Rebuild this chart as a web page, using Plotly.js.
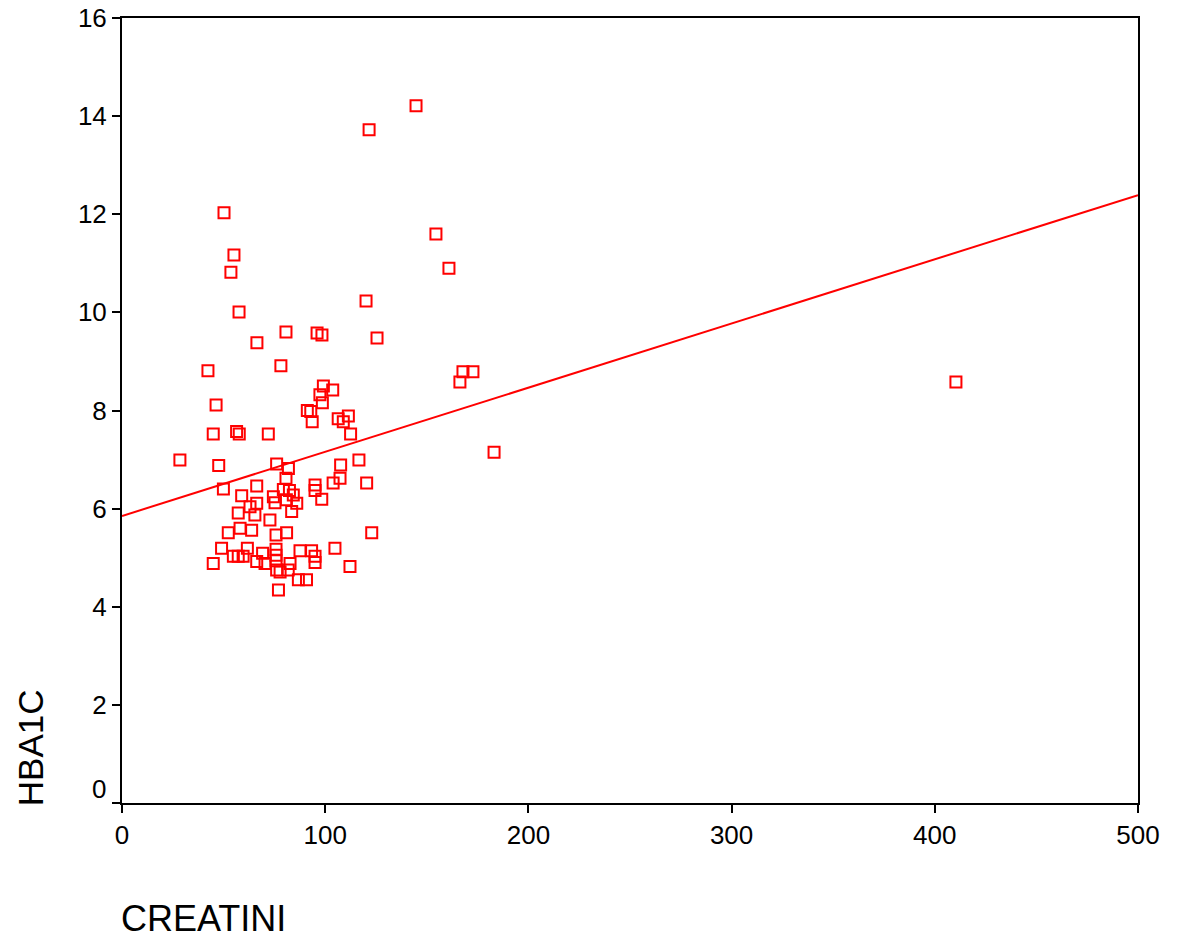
<!DOCTYPE html>
<html>
<head>
<meta charset="utf-8">
<script src="https://cdn.plot.ly/plotly-3.0.1.min.js"></script>
<style>html,body{margin:0;padding:0;background:#fff;}#chart{width:1179px;height:942px;}</style>
</head>
<body>
<div id="chart"></div>
<script>
const creatinine = [
  144.7,121.6,50.2,55.1,154.5,53.6,160.9,57.6,120.1,80.7,96.0,98.4,125.5,66.4,42.3,78.2,167.8,172.7,166.3,410.4,
  46.3,99.1,103.7,97.4,98.6,91.2,92.9,93.6,106.4,111.4,108.9,112.5,44.9,56.4,57.7,72.0,
  183.1,28.5,116.6,47.6,76.1,81.9,107.6,80.7,107.3,103.9,120.4,66.3,95.0,95.0,49.9,79.4,82.4,84.3,98.3,58.9,
  74.5,80.9,86.0,75.3,66.3,63.0,
  83.5,57.2,65.4,72.8,58.1,52.3,63.8,75.8,81.0,122.9,49.0,61.7,104.8,69.2,75.8,75.8,75.8,87.6,93.3,95.0,95.0,
  54.8,57.2,59.6,44.9,66.3,70.4,82.7,81.8,77.8,76.1,86.8,90.8,77.0,112.2
];
const hba1c = [
  14.21,13.72,12.03,11.17,11.60,10.82,10.90,10.01,10.23,9.60,9.58,9.54,9.48,9.38,8.81,8.91,8.79,8.79,8.58,8.58,
  8.11,8.50,8.42,8.32,8.16,8.00,7.98,7.77,7.83,7.89,7.77,7.52,7.52,7.57,7.52,7.52,
  7.15,6.99,6.99,6.88,6.91,6.82,6.89,6.62,6.62,6.52,6.52,6.46,6.48,6.37,6.40,6.39,6.37,6.28,6.19,6.26,
  6.24,6.18,6.11,6.12,6.11,6.04,
  5.94,5.91,5.87,5.77,5.60,5.51,5.56,5.46,5.51,5.51,5.19,5.19,5.19,5.09,5.17,5.05,4.94,5.14,5.14,5.03,4.90,
  5.03,5.03,5.03,4.88,4.92,4.88,4.88,4.75,4.71,4.75,4.55,4.55,4.34,4.82
];
const fitX = [0, 500];
const fitY = [5.85, 12.39];
const xTicks = [0, 100, 200, 300, 400, 500];
const yTicks = [0, 2, 4, 6, 8, 10, 12, 14, 16];
const yTickText = ['', '2', '4', '6', '8', '10', '12', '14', '16'];

const traces = [
  {x: fitX, y: fitY, mode: 'lines', type: 'scatter', line: {color: '#ff0000', width: 2}, hoverinfo: 'skip'},
  {x: creatinine, y: hba1c, mode: 'markers', type: 'scatter',
   marker: {symbol: 'square-open', size: 11, color: '#ff0000', line: {width: 2, color: '#ff0000'}}}
];
const font = {family: 'Liberation Sans, Arial, sans-serif', color: '#000'};
const layout = {
  width: 1179, height: 942,
  margin: {l: 122, r: 41, t: 18, b: 139},
  paper_bgcolor: '#fff', plot_bgcolor: '#fff',
  showlegend: false,
  font: font,
  xaxis: {range: [0, 500], tickvals: xTicks, ticktext: xTicks.map(String), showgrid: false, zeroline: false,
          showline: true, linecolor: '#000', linewidth: 2, mirror: true, ticks: 'outside', ticklen: 8, tickwidth: 2,
          tickcolor: '#000', tickfont: {size: 26, family: font.family, color: '#000'}},
  yaxis: {range: [0, 16], tickvals: yTicks, ticktext: yTickText, showgrid: false, zeroline: false,
          showline: true, linecolor: '#000', linewidth: 2, mirror: true, ticks: 'outside', ticklen: 8, tickwidth: 2,
          tickcolor: '#000', tickfont: {size: 26, family: font.family, color: '#000'}},
  annotations: [
    {text: '0', xref: 'paper', yref: 'y', x: 0, y: 0, xanchor: 'right', yanchor: 'middle', xshift: -14, yshift: 14,
     showarrow: false, font: {size: 26, family: font.family, color: '#000'}},
    {text: 'CREATINI', xref: 'paper', yref: 'paper', x: -0.003, y: -0.1465, xanchor: 'left', yanchor: 'middle',
     showarrow: false, font: {size: 36, family: font.family, color: '#000'}},
    {text: 'HBA1C', xref: 'paper', yref: 'paper', x: -0.0906, y: -0.006, xanchor: 'center', yanchor: 'bottom',
     textangle: -90, showarrow: false, font: {size: 35, family: font.family, color: '#000'}}
  ]
};
Plotly.newPlot('chart', traces, layout, {displayModeBar: false, staticPlot: true});
</script>
</body>
</html>
